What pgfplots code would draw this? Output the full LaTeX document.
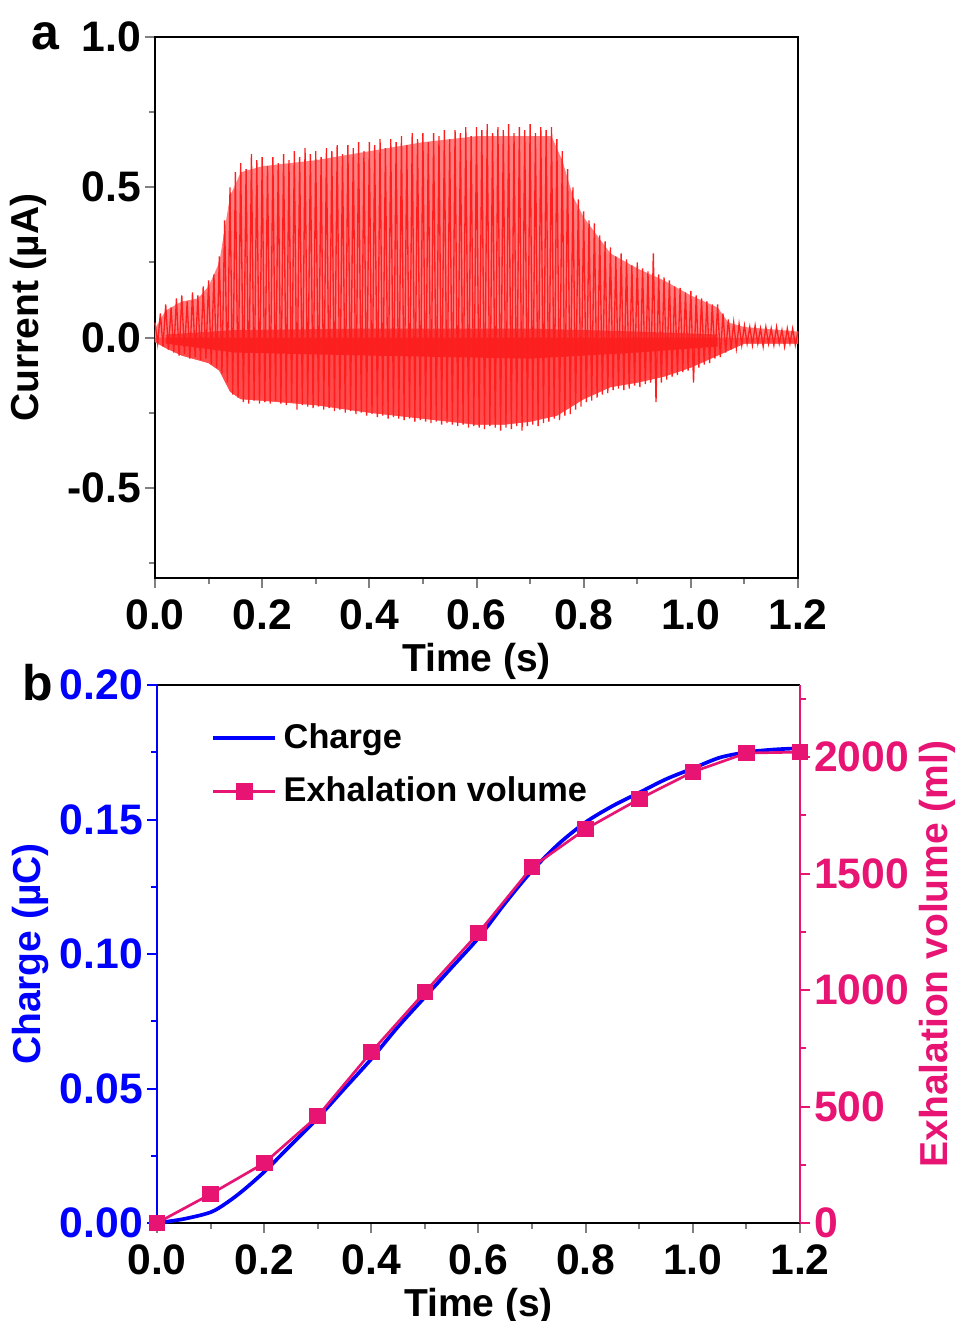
\documentclass[border=0pt]{standalone}
\usepackage{fontspec}
\setmainfont{Liberation Sans}
\usepackage{pgfplots}
\pgfplotsset{compat=1.18}
\definecolor{vol}{RGB}{232,20,115}
\definecolor{cur}{RGB}{255,30,30}
\definecolor{curfill}{RGB}{255,128,128}
\definecolor{curlow}{RGB}{255,75,75}
\definecolor{curcore}{RGB}{245,0,0}
\newcommand{\lbl}{\bfseries\fontsize{12.8}{15}\selectfont}
\newcommand{\axl}{\bfseries\fontsize{11.7}{14}\selectfont}
\pgfplotsset{
  common/.style={
    scale only axis, width=192.9pt, clip=false,
    tick align=outside, major tick length=3pt, minor tick length=1.7pt,
    tick label style={font=\lbl}, label style={font=\axl},
    yticklabel style={inner xsep=1pt},
    /pgf/number format/assume math mode=true,
    axis line style={line width=0.6pt},
    major tick style={line width=0.6pt}, minor tick style={line width=0.6pt},
    xmin=0, xmax=1.2,
    xtick={0,0.2,0.4,0.6,0.8,1.0,1.2},
    xticklabels={0.0,0.2,0.4,0.6,0.8,1.0,1.2},
    minor xtick={0.1,0.3,0.5,0.7,0.9,1.1},
  }
}
\begin{document}
\begin{tikzpicture}
\useasboundingbox (-46.5pt,-222.9pt) rectangle (240.9pt,173.4pt);
% ---------------- panel a ----------------
\begin{axis}[common, at={(0,0)}, height=162.3pt,
  ymin=-0.8, ymax=1.0,
  ytick={-0.5,0,0.5,1}, yticklabels={-0.5,0.0,0.5,1.0},
  minor ytick={-0.75,-0.25,0.25,0.75},
  xtick pos=left, ytick pos=left,
  xlabel={Time (s)}, ylabel={Current (µA)},
  xlabel style={yshift=3pt},
  ylabel style={at={(axis description cs:-0.1975,0.5)}, anchor=center}]
% envelope of the signal (light)
\addplot[draw=none, fill=curfill] coordinates {
(0,0.03)(0.02,0.09)(0.05,0.12)(0.08,0.13)(0.10,0.17)(0.12,0.25)(0.13,0.36)(0.14,0.47)(0.16,0.55)(0.20,0.57)(0.30,0.59)(0.40,0.62)(0.50,0.65)(0.60,0.67)(0.74,0.67)(0.76,0.59)(0.78,0.47)(0.80,0.40)(0.85,0.28)(0.90,0.23)(0.95,0.19)(1.00,0.14)(1.05,0.10)(1.07,0.05)(1.10,0.035)(1.2,0.02)
(1.2,-0.02)(1.10,-0.02)(1.05,-0.06)(1.00,-0.10)(0.95,-0.13)(0.90,-0.15)(0.85,-0.165)(0.80,-0.205)(0.75,-0.26)(0.70,-0.28)(0.65,-0.29)(0.60,-0.29)(0.50,-0.27)(0.40,-0.25)(0.30,-0.225)(0.20,-0.21)(0.16,-0.205)(0.14,-0.18)(0.12,-0.11)(0.10,-0.085)(0.05,-0.06)(0.02,-0.035)(0,-0.015)
} --cycle;
% negative half (denser)
\addplot[draw=none, fill=curlow] coordinates {
(0,0.0)(0.5,0.0)(1.2,0.0)
(1.2,-0.02)(1.10,-0.02)(1.05,-0.06)(1.00,-0.10)(0.95,-0.13)(0.90,-0.15)(0.85,-0.165)(0.80,-0.205)(0.75,-0.26)(0.70,-0.28)(0.65,-0.29)(0.60,-0.29)(0.50,-0.27)(0.40,-0.25)(0.30,-0.225)(0.20,-0.21)(0.16,-0.205)(0.14,-0.18)(0.12,-0.11)(0.10,-0.085)(0.05,-0.06)(0.02,-0.035)(0,-0.015)
} --cycle;
% dense core around zero
\addplot[draw=none, fill=curcore, fill opacity=0.55] coordinates {
(0.02,0.01)(0.15,0.025)(0.40,0.03)(0.70,0.03)(0.90,0.02)(1.05,0.01)
(1.05,-0.03)(0.90,-0.05)(0.70,-0.07)(0.40,-0.06)(0.15,-0.05)(0.02,-0.02)
} --cycle;
\addplot[cur, line width=0.4pt] coordinates {
(0.000,0.05)(0.005,-0.02)(0.010,0.08)(0.015,-0.03)(0.020,0.11)(0.025,-0.04)(0.030,0.10)(0.035,-0.05)
(0.040,0.13)(0.045,-0.06)(0.050,0.14)(0.055,-0.055)(0.060,0.12)(0.065,-0.07)(0.070,0.15)(0.075,-0.065)
(0.080,0.14)(0.085,-0.075)(0.090,0.17)(0.095,-0.07)(0.100,0.19)(0.105,-0.09)(0.110,0.21)(0.115,-0.10)
(0.120,0.27)(0.125,-0.12)(0.130,0.39)(0.135,-0.15)(0.140,0.50)(0.145,-0.19)(0.150,0.55)(0.155,-0.20)
(0.160,0.58)(0.165,-0.215)(0.170,0.56)(0.175,-0.22)(0.180,0.61)(0.185,-0.21)(0.190,0.59)(0.195,-0.22)
(0.200,0.60)(0.205,-0.215)(0.210,0.57)(0.215,-0.22)(0.220,0.60)(0.225,-0.21)(0.230,0.58)(0.235,-0.22)
(0.240,0.61)(0.245,-0.225)(0.250,0.59)(0.255,-0.215)(0.260,0.62)(0.265,-0.24)(0.270,0.60)(0.275,-0.225)
(0.280,0.63)(0.285,-0.23)(0.290,0.61)(0.295,-0.235)(0.300,0.62)(0.305,-0.23)(0.310,0.60)(0.315,-0.24)
(0.320,0.63)(0.325,-0.235)(0.330,0.62)(0.335,-0.245)(0.340,0.64)(0.345,-0.24)(0.350,0.61)(0.355,-0.25)
(0.360,0.64)(0.365,-0.245)(0.370,0.63)(0.375,-0.255)(0.380,0.65)(0.385,-0.25)(0.390,0.62)(0.395,-0.26)
(0.400,0.65)(0.405,-0.255)(0.410,0.64)(0.415,-0.265)(0.420,0.66)(0.425,-0.26)(0.430,0.63)(0.435,-0.27)
(0.440,0.66)(0.445,-0.265)(0.450,0.65)(0.455,-0.27)(0.460,0.67)(0.465,-0.275)(0.470,0.64)(0.475,-0.27)
(0.480,0.68)(0.485,-0.28)(0.490,0.66)(0.495,-0.275)(0.500,0.68)(0.505,-0.28)(0.510,0.65)(0.515,-0.285)
(0.520,0.68)(0.525,-0.28)(0.530,0.67)(0.535,-0.29)(0.540,0.69)(0.545,-0.285)(0.550,0.66)(0.555,-0.29)
(0.560,0.69)(0.565,-0.295)(0.570,0.68)(0.575,-0.29)(0.580,0.70)(0.585,-0.30)(0.590,0.67)(0.595,-0.295)
(0.600,0.70)(0.605,-0.30)(0.610,0.69)(0.615,-0.305)(0.620,0.71)(0.625,-0.295)(0.630,0.68)(0.635,-0.30)
(0.640,0.70)(0.645,-0.31)(0.650,0.69)(0.655,-0.30)(0.660,0.71)(0.665,-0.305)(0.670,0.68)(0.675,-0.295)
(0.680,0.70)(0.685,-0.31)(0.690,0.69)(0.695,-0.295)(0.700,0.71)(0.705,-0.29)(0.710,0.68)(0.715,-0.295)
(0.720,0.70)(0.725,-0.285)(0.730,0.69)(0.735,-0.28)(0.740,0.70)(0.745,-0.27)(0.750,0.66)(0.755,-0.275)
(0.760,0.62)(0.765,-0.26)(0.770,0.56)(0.775,-0.255)(0.780,0.50)(0.785,-0.24)(0.790,0.46)(0.795,-0.23)
(0.800,0.42)(0.805,-0.215)(0.810,0.39)(0.815,-0.21)(0.820,0.38)(0.825,-0.20)(0.830,0.34)(0.835,-0.19)
(0.840,0.32)(0.845,-0.185)(0.850,0.30)(0.855,-0.175)(0.860,0.27)(0.865,-0.17)(0.870,0.28)(0.875,-0.175)
(0.880,0.26)(0.885,-0.17)(0.890,0.24)(0.895,-0.16)(0.900,0.25)(0.905,-0.165)(0.910,0.23)(0.915,-0.155)
(0.920,0.22)(0.925,-0.15)(0.930,0.28)(0.935,-0.215)(0.940,0.21)(0.945,-0.15)(0.950,0.20)(0.955,-0.14)
(0.960,0.19)(0.965,-0.13)(0.970,0.17)(0.975,-0.125)(0.980,0.165)(0.985,-0.115)(0.990,0.15)(0.995,-0.11)
(1.000,0.155)(1.005,-0.15)(1.010,0.14)(1.015,-0.10)(1.020,0.13)(1.025,-0.09)(1.030,0.12)(1.035,-0.085)
(1.040,0.11)(1.045,-0.07)(1.050,0.11)(1.055,-0.065)(1.060,0.08)(1.065,-0.05)(1.070,0.06)(1.075,-0.04)
(1.080,0.05)(1.085,-0.035)(1.090,0.045)(1.095,-0.025)(1.100,0.04)(1.105,-0.02)(1.110,0.035)(1.115,-0.025)
(1.120,0.04)(1.125,-0.02)(1.130,0.03)(1.135,-0.03)(1.140,0.035)(1.145,-0.02)(1.150,0.03)(1.155,-0.025)
(1.160,0.035)(1.165,-0.02)(1.170,0.025)(1.175,-0.03)(1.180,0.03)(1.185,-0.02)(1.190,0.03)(1.195,-0.025)
(1.200,0.02)
};
\node[font=\bfseries\fontsize{15}{17}\selectfont, anchor=base] at (axis description cs:-0.171,0.976) {a};
\end{axis}
% ---------------- panel b (left axis: charge) ----------------
\begin{axis}[common, at={(0.6pt,-193.5pt)}, height=161.4pt,
  ymin=0, ymax=0.2,
  axis y line*=left,
  y axis line style={blue, line width=0.5pt},
  ytick={0,0.05,0.1,0.15,0.2}, yticklabels={0.00,0.05,0.10,0.15,0.20},
  minor ytick={0.025,0.075,0.125,0.175},
  every major y tick/.append style={blue}, every minor y tick/.append style={blue},
  yticklabel style={text=blue},
  xtick pos=left,
  xlabel={Time (s)}, ylabel={Charge (µC)},
  ylabel style={text=blue, at={(axis description cs:-0.1975,0.5)}, anchor=center},
  xlabel style={yshift=3pt}]
\addplot[blue, line width=1.1pt, smooth] coordinates {
(0,0)(0.05,0.0015)(0.1,0.004)(0.13,0.0075)(0.16,0.012)(0.2,0.019)(0.25,0.029)(0.3,0.039)(0.35,0.050)(0.4,0.061)(0.45,0.073)(0.5,0.084)(0.55,0.095)(0.6,0.106)(0.65,0.119)(0.7,0.131)(0.75,0.141)(0.8,0.149)(0.85,0.155)(0.9,0.160)(0.95,0.165)(1.0,0.169)(1.05,0.173)(1.1,0.175)(1.15,0.176)(1.2,0.1765)
};
\node[font=\bfseries\fontsize{15}{17}\selectfont, anchor=base] at (axis description cs:-0.185,0.972) {b};
\end{axis}
% ---------------- panel b (right axis: volume) ----------------
\begin{axis}[common, at={(0.6pt,-193.5pt)}, height=161.4pt,
  ymin=0, ymax=2309,
  axis y line*=right, axis x line=none,
  y axis line style={vol, line width=0.5pt},
  ytick={0,500,1000,1500,2000}, yticklabels={0,500,1000,1500,2000},
  minor ytick={250,750,1250,1750,2250},
  every major y tick/.append style={vol}, every minor y tick/.append style={vol},
  yticklabel style={text=vol},
  ylabel={Exhalation volume (ml)},
  ylabel style={text=vol, at={(axis description cs:1.214,0.5)}, anchor=center},
  legend cell align=left,
  legend style={draw=none, fill=none, font=\bfseries\fontsize{10.3}{12}\selectfont, at={(axis description cs:0.068,0.955)}, anchor=north west, row sep=3pt},
  legend image code/.code={\draw[mark repeat=2,mark phase=2,#1] plot coordinates {(0pt,0pt) (9.3pt,0pt) (18.6pt,0pt)};}]
\addlegendimage{blue, line width=1.1pt}
\addlegendentry{Charge}
\addplot[vol, line width=0.8pt, mark=square*, mark size=2.1pt, mark options={solid}] coordinates {
(0,0)(0.1,124)(0.2,257)(0.3,459)(0.4,734)(0.5,991)(0.6,1245)(0.7,1528)(0.8,1691)(0.9,1820)(1.0,1936)(1.1,2017)(1.2,2021)
};
\addlegendentry{Exhalation volume}
\end{axis}
\end{tikzpicture}
\end{document}
